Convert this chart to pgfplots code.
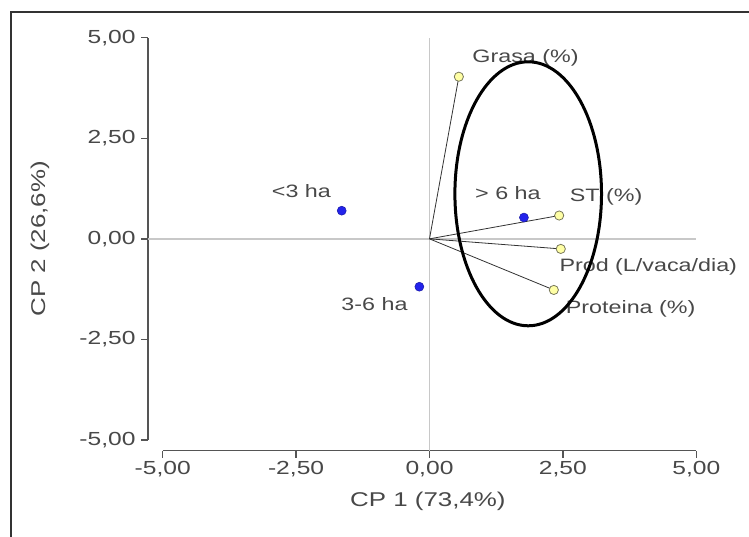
\documentclass[border=0pt]{standalone}
\usepackage{fontspec}
\setmainfont{Liberation Sans}[FakeStretch=1.3]
\usepackage{pgfplots}
\pgfplotsset{compat=1.18}
\definecolor{txt}{RGB}{72,72,72}
\definecolor{axcol}{RGB}{85,85,85}
\definecolor{zerocol}{RGB}{200,200,200}
\definecolor{vecol}{RGB}{50,50,50}
\definecolor{ptblue}{RGB}{35,35,235}
\definecolor{ptyel}{RGB}{255,255,165}
\definecolor{ptyeledge}{RGB}{120,120,90}
\newcommand{\fsz}{\fontsize{18}{21.6}\selectfont}
\newcommand{\tsz}{\fontsize{19}{22.8}\selectfont}
\newcommand{\lsz}{\fontsize{20}{24}\selectfont}
\begin{document}
\begin{tikzpicture}
\begin{axis}[
  at={(0,0)}, anchor=origin,
  x=53.36bp, y=40.23bp,
  xmin=-5.274, xmax=5, ymin=-5.266, ymax=5,
  axis x line*=bottom, axis y line*=left,
  axis line style={draw=none},
  clip=false,
  xtick={-5,-2.5,0,2.5,5}, ytick={-5,-2.5,0,2.5,5},
  tick align=outside, major tick length=7bp,
  tick style={axcol, line width=1.4bp},
  every tick label/.append style={font=\tsz, text=txt},
  yticklabel style={xshift=-2bp},
  xlabel={CP 1 (73,4\%)}, ylabel={CP 2 (26,6\%)},
  xlabel style={at={(axis cs:-0.03,-6.52)}, anchor=center, font=\lsz, text=txt},
  ylabel style={at={(axis cs:-7.30,0)}, anchor=center, font=\lsz, text=txt},
  /pgf/number format/fixed,
  /pgf/number format/fixed zerofill,
  /pgf/number format/precision=2,
  /pgf/number format/use comma,
  /pgf/number format/assume math mode=true,
]
% axis lines (disjoint style)
\draw[axcol, line width=1.4bp] (axis cs:-5.274,-5) -- (axis cs:-5.274,5);
\draw[axcol, line width=1.4bp] (axis cs:-5,-5.266) -- (axis cs:5,-5.266);
% zero reference lines
\draw[zerocol, line width=1.3bp] (axis cs:0,-5.266) -- (axis cs:0,5);
\draw[zerocol, line width=1.3bp] (axis cs:-5.274,0) -- (axis cs:5,0);
% vectors
\addplot[vecol, line width=0.8bp, no marks] coordinates {(0,0) (0.55,4.03)};
\addplot[vecol, line width=0.8bp, no marks] coordinates {(0,0) (2.43,0.58)};
\addplot[vecol, line width=0.8bp, no marks] coordinates {(0,0) (2.46,-0.25)};
\addplot[vecol, line width=0.8bp, no marks] coordinates {(0,0) (2.33,-1.27)};
% variables
\addplot[only marks, mark=*, mark size=4.6bp, mark options={fill=ptyel, draw=ptyeledge, line width=0.8bp}]
  coordinates {(0.55,4.03) (2.43,0.58) (2.46,-0.25) (2.33,-1.27)};
% groups
\addplot[only marks, mark=*, mark size=4.5bp, mark options={fill=ptblue, draw=ptblue!70!black, line width=0.5bp}]
  coordinates {(-1.645,0.70) (-0.19,-1.19) (1.77,0.53)};
% labels
\node[font=\fsz, text=txt] at (axis cs:-2.40,1.18) {<3 ha};
\node[font=\fsz, text=txt] at (axis cs:-1.03,-1.62) {3-6 ha};
\node[font=\fsz, text=txt] at (axis cs:1.47,1.14) {> 6 ha};
\node[font=\fsz, text=txt] at (axis cs:1.80,4.49) {Grasa (\%)};
\node[font=\fsz, text=txt] at (axis cs:3.31,1.04) {ST (\%)};
\node[font=\fsz, text=txt] at (axis cs:4.10,-0.70) {Prod (L/vaca/dia)};
\node[font=\fsz, text=txt] at (axis cs:3.77,-1.74) {Proteina (\%)};
% ellipse
\draw[black, line width=3bp] (axis cs:1.85,1.12) ellipse [x radius=73.3bp, y radius=132bp];
\end{axis}
% outer frame
\draw[black!80, line width=2bp] (-418.5bp,-320bp) -- (-418.5bp,226.5bp) -- (340bp,226.5bp);
\pgfresetboundingbox
\path[use as bounding box] (-429.5bp,-298.15bp) rectangle (319.5bp,238.85bp);
\end{tikzpicture}
\end{document}
